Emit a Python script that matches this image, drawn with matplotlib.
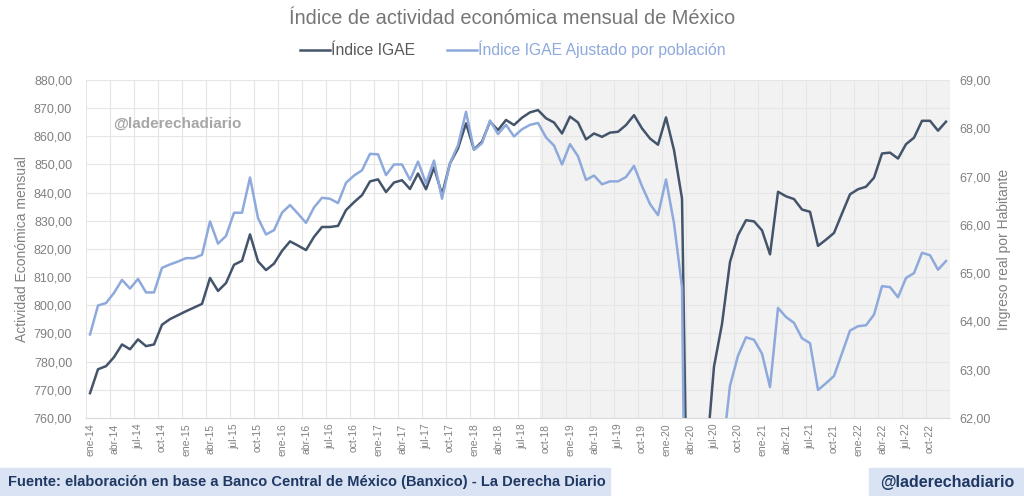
import matplotlib
matplotlib.use("Agg")
import matplotlib.pyplot as plt
from matplotlib.ticker import FuncFormatter, FixedLocator

plt.rcParams["font.family"] = ["Liberation Sans", "DejaVu Sans"]

# Datos (ene-14 a dic-22)
meses = ["ene", "feb", "mar", "abr", "may", "jun", "jul", "ago", "sep", "oct", "nov", "dic"]
anios = list(range(14, 23))
etiquetas = [f"{m}-{a}" for a in anios for m in meses]

igae = [
    768.8, 777.3, 778.4, 781.6, 786.1, 784.4, 787.9, 785.5, 786.1, 793.1, 795.1, 796.5,
    797.9, 799.2, 800.5, 809.7, 805.1, 807.9, 814.4, 815.8, 825.2, 815.6, 812.5, 814.8,
    819.3, 822.7, 821.2, 819.6, 824.3, 827.8, 827.8, 828.2, 833.8, 836.6, 839.1, 844.0,
    844.7, 840.2, 843.6, 844.4, 841.3, 846.8, 841.2, 848.9, 839.4, 850.4, 855.7, 864.6,
    855.3, 858.1, 865.2, 862.2, 865.8, 864.0, 866.6, 868.5, 869.3, 866.4, 864.9, 861.0,
    867.0, 864.9, 858.9, 861.0, 859.8, 861.3, 861.6, 864.0, 867.5, 862.8, 859.2, 857.0,
    866.7, 855.1, 837.9, 655.0, 662.0, 744.5, 778.3, 793.4, 815.4, 824.9, 830.2, 829.8,
    826.6, 818.1, 840.3, 838.7, 837.7, 834.0, 833.2, 821.1, 823.3, 825.7, 832.6, 839.4,
    841.2, 842.1, 845.3, 853.9, 854.2, 852.1, 857.2, 859.5, 865.5, 865.5, 862.0, 865.2,
]

igae_pob = [
    63.73, 64.33, 64.38, 64.59, 64.86, 64.68, 64.88, 64.60, 64.60, 65.11, 65.18, 65.24,
    65.31, 65.31, 65.38, 66.07, 65.61, 65.77, 66.25, 66.25, 66.98, 66.14, 65.80, 65.89,
    66.25, 66.41, 66.23, 66.04, 66.36, 66.56, 66.54, 66.45, 66.87, 67.02, 67.13, 67.47,
    67.46, 67.03, 67.25, 67.25, 66.93, 67.31, 66.86, 67.33, 66.54, 67.28, 67.65, 68.34,
    67.55, 67.69, 68.16, 67.88, 68.07, 67.83, 67.98, 68.07, 68.11, 67.81, 67.64, 67.25,
    67.67, 67.42, 66.93, 67.02, 66.84, 66.90, 66.90, 66.99, 67.22, 66.80, 66.43, 66.20,
    66.94, 66.03, 64.71, 50.50, 51.00, 57.50, 60.10, 61.20, 62.67, 63.29, 63.67, 63.62,
    63.33, 62.64, 64.28, 64.09, 63.97, 63.65, 63.55, 62.58, 62.72, 62.87, 63.34, 63.81,
    63.90, 63.92, 64.14, 64.73, 64.71, 64.50, 64.90, 65.00, 65.42, 65.37, 65.07, 65.25,
]

inicio_sombra = 56.25  # sep/oct-18

GRIS = "#595959"
GRIS_TITULO = "#767676"
GRIS_TICK = "#808080"
OSCURO = "#44546A"
CLARO = "#8EA9DB"
NAVY = "#1F3864"
FONDO_PIE = "#DAE3F3"

fmt = FuncFormatter(lambda v, p: f"{v:.2f}".replace(".", ","))

fig = plt.figure(figsize=(10.24, 4.96), dpi=100)
ax = fig.add_axes([0.084, 0.1573, 0.84375, 0.6815])
ax2 = ax.twinx()

x = list(range(len(igae)))

# zona sombreada
ax.axvspan(inicio_sombra, len(igae) - 0.5, color="#F2F2F2", zorder=0, lw=0)

l1, = ax.plot(x, igae, color=OSCURO, lw=1.8, zorder=3, label="Índice IGAE")
l2, = ax2.plot(x, igae_pob, color=CLARO, lw=1.8, zorder=3,
               label="Índice IGAE Ajustado por población")

ax.set_xlim(-0.5, len(igae) - 0.5)
ax.set_ylim(760, 880)
ax2.set_ylim(62, 69)

ax.set_yticks(range(760, 881, 10))
ax2.set_yticks(range(62, 70))
ax.yaxis.set_major_formatter(fmt)
ax2.yaxis.set_major_formatter(fmt)

ax.set_xticks(x[::3])
ax.set_xticklabels(etiquetas[::3], rotation=90, fontsize=7.5, color=GRIS_TICK)
ax.xaxis.set_minor_locator(FixedLocator([i - 0.5 for i in range(0, len(igae) + 1, 3)]))

ax.grid(axis="y", color="#E6E6E6", lw=0.8, zorder=1)
ax.grid(axis="x", which="minor", color="#E6E6E6", lw=0.8, zorder=1)
ax.set_axisbelow(True)

ax.tick_params(axis="x", which="both", length=0, pad=4)
ax.tick_params(axis="y", length=0, pad=10, labelsize=9, labelcolor=GRIS_TICK)
ax2.tick_params(axis="y", length=0, pad=7, labelsize=9, labelcolor=GRIS_TICK)

for s in ["top", "left", "right"]:
    ax.spines[s].set_visible(False)
ax.spines["bottom"].set_color("#D9D9D9")
for s in ax2.spines.values():
    s.set_visible(False)

ax.set_ylabel("Actividad Económica mensual", fontsize=10, color=GRIS_TICK)
ax.yaxis.set_label_coords(-0.066, 0.5)
ax2.set_ylabel("Ingreso real por Habitante", fontsize=10, color=GRIS_TICK)
ax2.yaxis.set_label_coords(1.054, 0.5)

# marca de agua
ax.text(0.031, 0.87, "@laderechadiario", transform=ax.transAxes, fontsize=11,
        fontweight="bold", color="#A6A6A6", va="center", ha="left", zorder=5)

# titulo y leyenda
fig.text(0.5, 0.963, "Índice de actividad económica mensual de México",
         ha="center", va="center", fontsize=14.4, color=GRIS_TITULO)
fig.legend(handles=[l1, l2], loc="center", bbox_to_anchor=(0.501, 0.9), ncol=2,
           frameon=False, fontsize=11.3, labelcolor=[GRIS, CLARO], handlelength=1.9,
           columnspacing=2.0, handletextpad=0.1)

# pie
fig.patches.append(plt.Rectangle((0, 0), 610 / 1024, 28 / 496, transform=fig.transFigure,
                                 color=FONDO_PIE, zorder=0))
fig.patches.append(plt.Rectangle((869 / 1024, 0), 155 / 1024, 28 / 496,
                                 transform=fig.transFigure, color=FONDO_PIE, zorder=0))
fig.text(8 / 1024, 14 / 496,
         "Fuente: elaboración en base a Banco Central de México (Banxico) - La Derecha Diario",
         ha="left", va="center", fontsize=10.5, fontweight="bold", color=NAVY)
fig.text(947 / 1024, 14 / 496, "@laderechadiario", ha="center", va="center",
         fontsize=11.5, fontweight="bold", color=NAVY)

fig.savefig("out.png", dpi=100)
